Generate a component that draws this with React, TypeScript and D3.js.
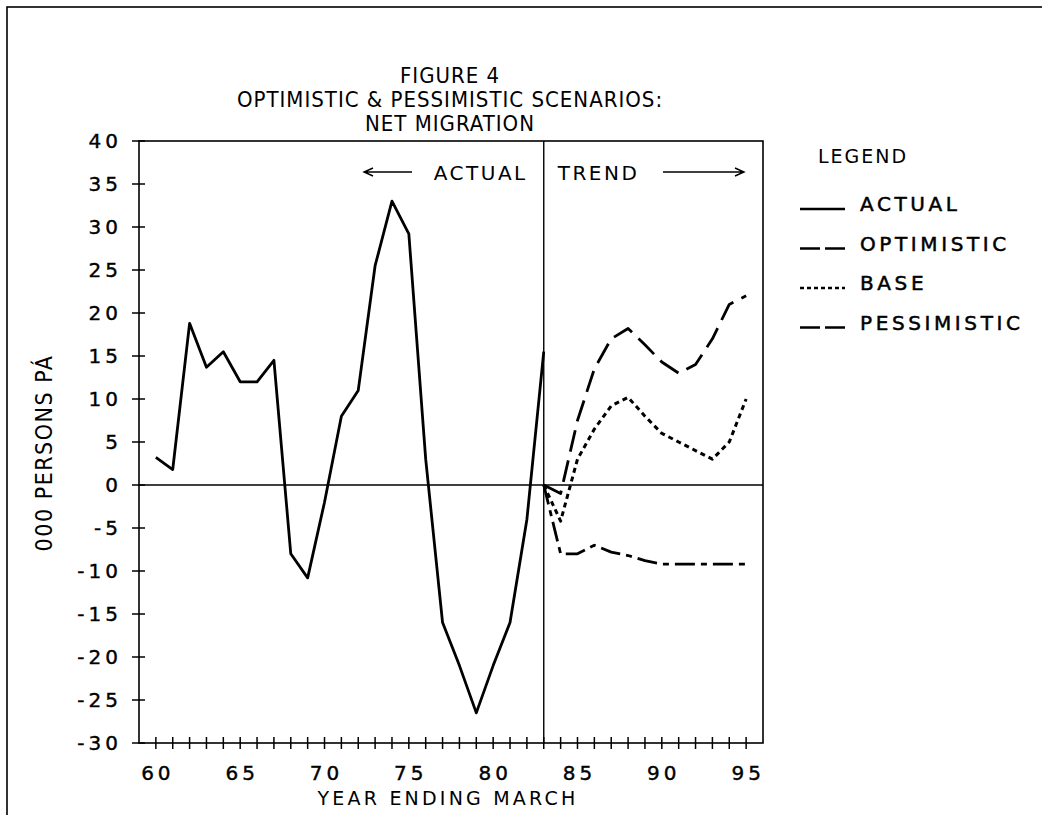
import * as d3 from 'd3';
import React, { Component } from 'react';

// years ending March, actual series
const actualYears = [60, 61, 62, 63, 64, 65, 66, 67, 68, 69, 70, 71, 72, 73, 74, 75, 76, 77, 78, 79, 80, 81, 82, 83];
const actualValues = [3.2, 1.8, 18.8, 13.7, 15.5, 12, 12, 14.5, -8, -10.8, -2, 8, 11, 25.5, 33, 29.2, 3, -16, -21, -26.5, -21, -16, -4, 15.5];

// trend scenarios
const trendYears = [83, 84, 85, 86, 87, 88, 89, 90, 91, 92, 93, 94, 95];
const optimisticValues = [0, -1, 7.5, 13.5, 17, 18.2, 16.3, 14.3, 13, 14, 17, 21, 22];
const baseValues = [0, -4.2, 3, 6.5, 9.2, 10.2, 8, 6, 5, 4, 3, 5, 10];
const pessimisticValues = [0, -8, -8, -7, -7.8, -8.2, -8.8, -9.2, -9.2, -9.2, -9.2, -9.2, -9.2];

const yTicks = [40, 35, 30, 25, 20, 15, 10, 5, 0, -5, -10, -15, -20, -25, -30];
const xTickLabels = [60, 65, 70, 75, 80, 85, 90, 95];

const titleLines = ['FIGURE 4', 'OPTIMISTIC & PESSIMISTIC SCENARIOS:', 'NET MIGRATION'];
const legendLabels = ['ACTUAL', 'OPTIMISTIC', 'BASE', 'PESSIMISTIC'];

const NARROW = '"Liberation Sans Narrow", "DejaVu Sans Condensed", sans-serif';
const WIDE = '"DejaVu Sans", Verdana, sans-serif';

const dashes: { [k: string]: string | null } = {
    ACTUAL: null,
    OPTIMISTIC: '22,9',
    BASE: '5,4',
    PESSIMISTIC: '20,6,6,6'
};

const legendDashes: { [k: string]: string | null } = {
    ACTUAL: null,
    OPTIMISTIC: '20,5',
    BASE: '4,3',
    PESSIMISTIC: '20,5'
};

/**
 * Migration chart.
 */
class MigrationChart extends Component<any, any> {
    node: any;

    componentDidMount() {
        this.drawChart();
    }

    componentDidUpdate() {
        d3.select(this.node).selectAll('*').remove();
        this.drawChart();
    }

    drawChart() {
        const dims = { left: 139, right: 763, top: 141, bottom: 743 };
        const svg = d3.select(this.node);

        const x = d3.scaleLinear().domain([59, 96]).range([dims.left, dims.right]);
        const y = d3.scaleLinear().domain([-30, 40]).range([dims.bottom, dims.top]);

        svg.append('rect')
            .attr('width', 1042)
            .attr('height', 815)
            .attr('fill', '#fff');

        // page frame (only top and left edges show)
        svg.append('rect')
            .attr('x', 7)
            .attr('y', 7)
            .attr('width', 1060)
            .attr('height', 830)
            .attr('fill', 'none')
            .attr('stroke', '#000')
            .attr('stroke-width', 1.6);

        svg.append('g')
            .selectAll('text')
            .data(titleLines)
            .enter()
            .append('text')
            .attr('x', 450)
            .attr('y', (_, i) => 83 + i * 24)
            .attr('text-anchor', 'middle')
            .attr('font-family', NARROW)
            .attr('font-size', 22)
            .attr('letter-spacing', 1)
            .text(d => d);

        // plot box
        svg.append('rect')
            .attr('x', dims.left)
            .attr('y', dims.top)
            .attr('width', dims.right - dims.left)
            .attr('height', dims.bottom - dims.top)
            .attr('fill', 'none')
            .attr('stroke', '#000')
            .attr('stroke-width', 1.6);

        svg.append('line')
            .attr('x1', dims.left)
            .attr('x2', dims.right)
            .attr('y1', y(0))
            .attr('y2', y(0))
            .attr('stroke', '#000')
            .attr('stroke-width', 1.6);

        svg.append('line')
            .attr('x1', x(83))
            .attr('x2', x(83))
            .attr('y1', dims.top)
            .attr('y2', dims.bottom)
            .attr('stroke', '#000')
            .attr('stroke-width', 1.4);

        // y ticks
        const yAxis = svg.append('g');

        yAxis.selectAll('line')
            .data(yTicks)
            .enter()
            .append('line')
            .attr('x1', dims.left - 7)
            .attr('x2', dims.left + 6)
            .attr('y1', d => y(d))
            .attr('y2', d => y(d))
            .attr('stroke', '#000')
            .attr('stroke-width', 1.5);

        yAxis.selectAll('text')
            .data(yTicks)
            .enter()
            .append('text')
            .attr('x', dims.left - 17)
            .attr('y', d => y(d) + 7)
            .attr('text-anchor', 'end')
            .attr('font-family', WIDE)
            .attr('font-size', 20)
            .attr('letter-spacing', 4)
            .attr('stroke', '#000')
            .attr('stroke-width', 0.4)
            .text(d => `${d}`);

        // x ticks, one per year
        const xAxis = svg.append('g');

        xAxis.selectAll('line')
            .data(d3.range(60, 96))
            .enter()
            .append('line')
            .attr('x1', d => x(d))
            .attr('x2', d => x(d))
            .attr('y1', dims.bottom - 6)
            .attr('y2', dims.bottom + 6)
            .attr('stroke', '#000')
            .attr('stroke-width', 1.5);

        xAxis.selectAll('text')
            .data(xTickLabels)
            .enter()
            .append('text')
            .attr('x', d => x(d) + 2)
            .attr('y', dims.bottom + 37)
            .attr('text-anchor', 'middle')
            .attr('font-family', WIDE)
            .attr('font-size', 20)
            .attr('letter-spacing', 4)
            .attr('stroke', '#000')
            .attr('stroke-width', 0.4)
            .text(d => `${d}`);

        svg.append('text')
            .attr('x', 448)
            .attr('y', 805)
            .attr('text-anchor', 'middle')
            .attr('font-family', WIDE)
            .attr('font-size', 19)
            .attr('letter-spacing', 3.2)
            .text('YEAR ENDING MARCH');

        svg.append('text')
            .attr('transform', 'translate(52, 453) rotate(-90)')
            .attr('text-anchor', 'middle')
            .attr('font-family', NARROW)
            .attr('font-size', 23)
            .attr('letter-spacing', 1.5)
            .text('000 PERSONS PÁ');

        // series
        const line = (years: Array<number>) => d3.line<number>()
            .x((_, i) => x(years[i]))
            .y(d => y(d));

        const series = [
            { name: 'ACTUAL', years: actualYears, values: actualValues },
            { name: 'OPTIMISTIC', years: trendYears, values: optimisticValues },
            { name: 'BASE', years: trendYears, values: baseValues },
            { name: 'PESSIMISTIC', years: trendYears, values: pessimisticValues }
        ];

        svg.append('g')
            .selectAll('path')
            .data(series)
            .enter()
            .append('path')
            .attr('d', s => line(s.years)(s.values))
            .attr('fill', 'none')
            .attr('stroke', '#000')
            .attr('stroke-width', s => (s.name === 'BASE' ? 3 : 2.8))
            .attr('stroke-linejoin', 'round')
            .attr('stroke-dasharray', s => dashes[s.name]);

        // actual / trend annotation
        const note = svg.append('g')
            .attr('font-family', WIDE)
            .attr('font-size', 20)
            .attr('letter-spacing', 2.5);

        note.append('text')
            .attr('x', x(83) - 16)
            .attr('y', 180)
            .attr('text-anchor', 'end')
            .text('ACTUAL');
        note.append('text')
            .attr('x', x(83) + 14)
            .attr('y', 180)
            .text('TREND');
        note.append('path')
            .attr('d', 'M412,172 L364,172 M373,168 L364,172 L373,176')
            .attr('fill', 'none')
            .attr('stroke', '#000')
            .attr('stroke-width', 1.4);
        note.append('path')
            .attr('d', 'M663,172 L744,172 M735,168 L744,172 L735,176')
            .attr('fill', 'none')
            .attr('stroke', '#000')
            .attr('stroke-width', 1.4);

        // legend
        const legend = svg.append('g');

        legend.append('text')
            .attr('x', 818)
            .attr('y', 163)
            .attr('font-family', WIDE)
            .attr('font-size', 19)
            .attr('letter-spacing', 2)
            .text('LEGEND');

        const rows = legend.selectAll('g.row')
            .data(legendLabels)
            .enter()
            .append('g')
            .attr('class', 'row')
            .attr('transform', (_, i) => `translate(0, ${203 + i * 39.5})`);

        rows.append('line')
            .attr('x1', 800)
            .attr('x2', 845)
            .attr('y1', 6)
            .attr('y2', 6)
            .attr('stroke', '#000')
            .attr('stroke-width', 2.4)
            .attr('stroke-dasharray', d => legendDashes[d]);

        rows.append('text')
            .attr('x', 860)
            .attr('y', 8)
            .attr('font-family', WIDE)
            .attr('font-size', 20)
            .attr('letter-spacing', 3.6)
            .attr('stroke', '#000')
            .attr('stroke-width', 0.5)
            .text(d => d);
    }

    render() {
        return (
            <svg
                ref={node => { this.node = node; }}
                width={1042}
                height={815}
                style={{ position: 'absolute', left: 0, top: 0 }} />
        );
    }
}

export default function App() {
    return <MigrationChart />;
}
